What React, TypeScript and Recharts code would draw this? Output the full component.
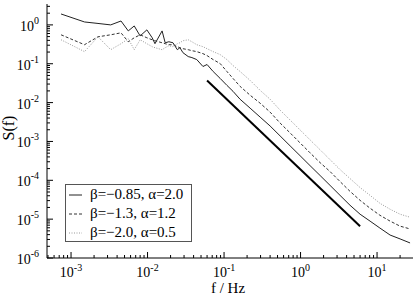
import { LineChart, Line, XAxis, YAxis, Legend } from 'recharts';

// frequencies (Hz) shared by the three spectra
const freq = [
  7.4e-4, 1.5e-3, 2.25e-3, 3.3e-3, 4.5e-3, 5.6e-3, 6.7e-3, 8.0e-3, 9.8e-3, 1.15e-2,
  1.25e-2, 1.55e-2, 1.7e-2, 1.9e-2, 2.15e-2, 2.45e-2, 2.65e-2, 2.9e-2, 3.4e-2, 3.8e-2,
  4.4e-2, 5.3e-2, 6.0e-2, 7.2e-2, 8.9e-2, 0.109, 0.131, 0.162, 0.219, 0.296,
  0.4, 0.54, 0.73, 0.985, 1.33, 1.8, 2.43, 3.28, 4.43, 6.0,
  8.1, 10.9, 14.8, 20.0, 27.0,
];
const sSolid = [
  1.91, 1.19, 1.09, 1.0, 1.26, 0.7, 0.94, 0.52, 0.745, 0.466,
  0.328, 0.7, 0.347, 0.368, 0.347, 0.23, 0.259, 0.193, 0.153, 0.144,
  0.128, 0.085, 0.0955, 0.0632, 0.0419, 0.0278, 0.0195, 0.0122, 0.0072, 0.00424,
  0.0025, 0.00139, 7.7e-4, 4.3e-4, 2.39e-4, 1.33e-4, 7.4e-5, 4.1e-5, 2.28e-5, 1.34e-5,
  8.9e-6, 5.9e-6, 3.9e-6, 3.1e-6, 2.44e-6,
];
const sDashed = [
  0.556, 0.309, 0.494, 0.556, 0.625, 0.368, 0.466, 0.556, 0.466, 0.414,
  0.391, 0.347, 0.328, 0.309, 0.309, 0.275, 0.259, 0.244, 0.23, 0.217,
  0.205, 0.182, 0.162, 0.128, 0.101, 0.0632, 0.0419, 0.0262, 0.0155, 0.00966,
  0.00569, 0.00298, 0.00166, 9.2e-4, 5.1e-4, 2.85e-4, 1.68e-4, 9.3e-5, 5.2e-5, 3.05e-5,
  1.91e-5, 1.26e-5, 8.9e-6, 6.6e-6, 5.6e-6,
];
const sDotted = [
  0.414, 0.205, 0.494, 0.23, 0.328, 0.44, 0.23, 0.414, 0.328, 0.275,
  0.259, 0.23, 0.259, 0.291, 0.275, 0.328, 0.347, 0.391, 0.414, 0.368,
  0.309, 0.275, 0.244, 0.205, 0.172, 0.128, 0.09, 0.0632, 0.0373, 0.0207,
  0.0122, 0.0064, 0.00356, 0.00198, 0.0011, 6.1e-4, 3.4e-4, 1.89e-4, 1.11e-4, 6.5e-5,
  4.1e-5, 2.56e-5, 1.8e-5, 1.34e-5, 1.12e-5,
];
// straight reference slope line
const refFreq = [0.06, 6.0];
const refS = [0.037, 6.6e-6];

const seriesNames = ['β=−0.85, α=2.0', 'β=−1.3, α=1.2', 'β=−2.0, α=0.5'];
const xDecades = [-4, -3, -2, -1, 0, 1];
const yDecades = [-6, -5, -4, -3, -2, -1, 0];

const X_DOMAIN: [number, number] = [4.85e-4, 29.5];
const Y_DOMAIN: [number, number] = [1e-6, 3.45];

const FONT = '"Liberation Serif", "Times New Roman", serif';

const series = [
  { key: 'solid', name: seriesNames[0], color: '#222', dash: undefined as string | undefined, width: 1 },
  { key: 'dashed', name: seriesNames[1], color: '#333', dash: '3 2', width: 1 },
  { key: 'dotted', name: seriesNames[2], color: '#999', dash: '1 1.5', width: 1 },
];

const data = freq.map((f, i) => ({ f, solid: sSolid[i], dashed: sDashed[i], dotted: sDotted[i] }));
const refData = refFreq.map((f, i) => ({ f, ref: refS[i] }));

function logTicks(decades: number[], dom: [number, number]) {
  const out: number[] = [];
  decades.forEach((d) => {
    for (let m = 1; m <= 9; m++) {
      const v = m * Math.pow(10, d);
      if (v >= dom[0] && v <= dom[1]) out.push(v);
    }
  });
  return out;
}
const xTicks = logTicks(xDecades, X_DOMAIN);
const yTicks = logTicks(yDecades, Y_DOMAIN);

function isMajor(v: number) {
  const l = Math.log10(v);
  return Math.abs(l - Math.round(l)) < 1e-6;
}

function XTick(props: any) {
  const { x, y, payload, side } = props;
  const major = isMajor(payload.value);
  const len = major ? 6 : 3;
  const dir = side === 'bottom' ? -1 : 1;
  const exp = Math.round(Math.log10(payload.value));
  return (
    <g>
      <line x1={x} x2={x} y1={y} y2={y + dir * len} stroke="#000" strokeWidth={1} />
      {side === 'bottom' && major && (
        <text x={x} y={y + 19} textAnchor="middle" fontFamily={FONT} fontSize={14} fill="#000">
          10
          <tspan dy={-6} fontSize={10}>{String(exp)}</tspan>
        </text>
      )}
    </g>
  );
}

function YTick(props: any) {
  const { x, y, payload, side } = props;
  const major = isMajor(payload.value);
  const len = major ? 6 : 3;
  const dir = side === 'left' ? 1 : -1;
  const exp = Math.round(Math.log10(payload.value));
  return (
    <g>
      <line x1={x} x2={x + dir * len} y1={y} y2={y} stroke="#000" strokeWidth={1} />
      {side === 'left' && major && (
        <text x={x - 8} y={y + 6} textAnchor="end" fontFamily={FONT} fontSize={14} fill="#000">
          10
          <tspan dy={-7} fontSize={10}>{String(exp)}</tspan>
        </text>
      )}
    </g>
  );
}

function LegendBox() {
  return (
    <div
      style={{
        border: '1px solid #555',
        background: '#fff',
        width: 125,
        height: 56,
        fontFamily: FONT,
        fontSize: 15,
        lineHeight: '19px',
        color: '#000',
        paddingTop: 0,
        boxSizing: 'content-box',
      }}
    >
      {series.map((s) => (
        <div key={s.key} style={{ display: 'flex', alignItems: 'center', height: 19, whiteSpace: 'nowrap' }}>
          <svg width={24} height={19} style={{ flex: 'none' }}>
            <line x1={3} x2={16} y1={10} y2={10} stroke={s.color} strokeWidth={1} strokeDasharray={s.dash} />
          </svg>
          <span>{s.name}</span>
        </div>
      ))}
    </div>
  );
}

export default function App() {
  return (
    <div style={{ position: 'absolute', left: 0, top: 0, width: 415, height: 295, background: '#fff' }}>
      <LineChart width={415} height={295} data={data} margin={{ top: 4, right: 2, bottom: 0, left: 0 }}>
        <XAxis
          dataKey="f"
          type="number"
          scale="log"
          domain={X_DOMAIN}
          allowDataOverflow
          ticks={xTicks}
          interval={0}
          tickSize={0}
          tickMargin={0}
          tickLine={false}
          axisLine={{ stroke: '#000' }}
          height={37}
          tick={(p: any) => <XTick {...p} side="bottom" />}
        />
        <XAxis
          xAxisId="top"
          orientation="top"
          dataKey="f"
          type="number"
          scale="log"
          domain={X_DOMAIN}
          allowDataOverflow
          ticks={xTicks}
          interval={0}
          tickSize={0}
          tickMargin={0}
          tickLine={false}
          axisLine={{ stroke: '#000' }}
          height={0}
          tick={(p: any) => <XTick {...p} side="top" />}
        />
        <YAxis
          type="number"
          scale="log"
          domain={Y_DOMAIN}
          allowDataOverflow
          ticks={yTicks}
          interval={0}
          tickSize={0}
          tickMargin={0}
          tickLine={false}
          axisLine={{ stroke: '#000' }}
          width={47}
          tick={(p: any) => <YTick {...p} side="left" />}
        />
        <YAxis
          yAxisId="right"
          orientation="right"
          type="number"
          scale="log"
          domain={Y_DOMAIN}
          allowDataOverflow
          ticks={yTicks}
          interval={0}
          tickSize={0}
          tickMargin={0}
          tickLine={false}
          axisLine={{ stroke: '#000' }}
          width={0}
          tick={(p: any) => <YTick {...p} side="right" />}
        />
        {series.map((s) => (
          <Line
            key={s.key}
            dataKey={s.key}
            name={s.name}
            type="linear"
            stroke={s.color}
            strokeWidth={s.width}
            strokeDasharray={s.dash}
            dot={false}
            activeDot={false}
            isAnimationActive={false}
          />
        ))}
        <Line
          data={refData}
          dataKey="ref"
          type="linear"
          stroke="#000"
          strokeWidth={2}
          dot={false}
          activeDot={false}
          legendType="none"
          isAnimationActive={false}
        />
        <Legend
          layout="vertical"
          align="center"
          verticalAlign="middle"
          wrapperStyle={{ left: 65, top: 184, width: 'auto', height: 'auto' }}
          content={() => <LegendBox />}
        />
      </LineChart>
      <div
        style={{
          position: 'absolute',
          left: 228,
          top: 282,
          transform: 'translateX(-50%)',
          fontFamily: FONT,
          fontSize: 15,
          whiteSpace: 'nowrap',
          lineHeight: '13px',
        }}
      >
        f / Hz
      </div>
      <div
        style={{
          position: 'absolute',
          left: 9,
          top: 128,
          transform: 'translate(-50%, -50%) rotate(-90deg)',
          fontFamily: FONT,
          fontSize: 16,
          whiteSpace: 'nowrap',
          lineHeight: 1,
        }}
      >
        S(f)
      </div>
    </div>
  );
}
